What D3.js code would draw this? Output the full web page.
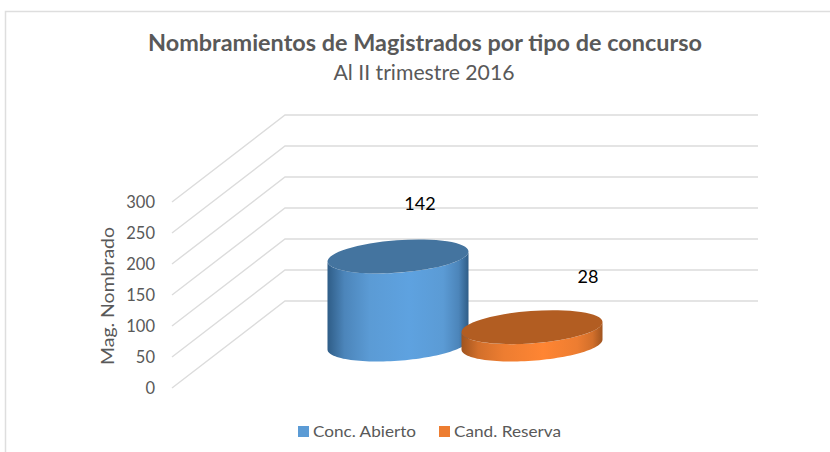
<!DOCTYPE html>
<html><head><meta charset="utf-8">
<script src="https://cdn.jsdelivr.net/npm/d3@7/dist/d3.min.js"></script>
<style>html,body{margin:0;padding:0;background:#fff}svg{display:block}text{font-family:Lato,"Open Sans",sans-serif}</style>
</head><body><svg id="c" width="830" height="452"></svg>
<script>
const seriesNames = ["Conc. Abierto", "Cand. Reserva"];
const seriesValues = [142, 28];
const tickValues = [0, 50, 100, 150, 200, 250, 300];
const fillMain = ["#5b9bd5", "#ed7d31"];
const fillPeak = ["#5ea2e0", "#ff8533"];
const fillEdge = ["#2f5d87", "#a0541f"];
const fillTop = ["#44749f", "#b25d22"];

const svg = d3.select("#c");
const W = 830, H = 452;
const depthX = 113, depthY = -87;
const y = d3.scaleLinear().domain([0, 300]).range([388, 202]);
const x = d3.scaleBand().domain(seriesNames).range([274.5, 542.5]);
const plotL = 172, plotR = 645;
const rx = 70.7, ry = 16.2, rot = -4.3;

svg.append("path").attr("d", `M5.5 ${H}V11.5H${W}`).attr("fill", "none").attr("stroke", "#dedede").attr("stroke-width", 1.5);

const tc = "#595959";
svg.append("text").attr("x", 425).attr("y", 51).attr("text-anchor", "middle")
  .attr("font-size", 22).attr("font-weight", 700).attr("fill", tc)
  .attr("textLength", 554).attr("lengthAdjust", "spacingAndGlyphs")
  .text("Nombramientos de Magistrados por tipo de concurso");
svg.append("text").attr("x", 424).attr("y", 80).attr("text-anchor", "middle")
  .attr("font-size", 21).attr("fill", tc)
  .attr("textLength", 181).attr("lengthAdjust", "spacingAndGlyphs")
  .text("Al II trimestre 2016");

svg.append("g").selectAll("path").data(tickValues).join("path")
  .attr("d", d => `M${plotL} ${y(d)}L${plotL + depthX} ${y(d) + depthY}H${plotR + depthX}`)
  .attr("fill", "none").attr("stroke", "#dcdcdc").attr("stroke-width", 1.4);

const ax = svg.append("g").attr("transform", "translate(160,0)")
  .call(d3.axisLeft(y).tickValues(tickValues).tickSize(0).tickPadding(5));
ax.select(".domain").remove();
ax.selectAll("text").attr("font-family", "Lato").attr("font-size", 16.5).attr("fill", tc).attr("dy", "0.36em");
svg.append("text").attr("transform", "translate(114,296) rotate(-90)").attr("text-anchor", "middle")
  .attr("font-size", 18).attr("fill", tc).attr("textLength", 138).attr("lengthAdjust", "spacingAndGlyphs").text("Mag. Nombrado");

const defs = svg.append("defs");
seriesNames.forEach((s, i) => {
  const g = defs.append("linearGradient").attr("id", "g" + i);
  [[0, fillEdge[i]], [0.12, d3.interpolateRgb(fillEdge[i], fillMain[i])(0.65)], [0.3, fillMain[i]], [0.58, fillPeak[i]], [0.82, fillMain[i]], [0.93, d3.interpolateRgb(fillEdge[i], fillMain[i])(0.65)], [1, fillEdge[i]]]
    .forEach(([o, c]) => g.append("stop").attr("offset", o).attr("stop-color", c));
});

const tr = rot * Math.PI / 180;
const ePoint = (cx, cy, a) => [
  cx + rx * Math.cos(a) * Math.cos(tr) - ry * Math.sin(a) * Math.sin(tr),
  cy + rx * Math.cos(a) * Math.sin(tr) + ry * Math.sin(a) * Math.cos(tr)
];
const a0 = Math.atan(-(ry / rx) * Math.tan(tr));
const angles = d3.range(0, 61).map(k => a0 + Math.PI * k / 60);
const baseY = y(0) + depthY / 2;
const scaleH = v => y(0) - y(v);
const cxOf = i => x(seriesNames[i]) + x.bandwidth() / 2 + depthX / 2;
const line = d3.line();

const bars = svg.append("g").selectAll("g").data(seriesValues).join("g");
bars.each(function (v, i) {
  const g = d3.select(this);
  const cx = cxOf(i), top = baseY - scaleH(v);
  const lower = angles.map(a => ePoint(cx, baseY, a));
  const upper = angles.map(a => ePoint(cx, top, a)).reverse();
  g.append("path").attr("d", line(lower.concat(upper)) + "Z").attr("fill", `url(#g${i})`);
  g.append("ellipse").attr("rx", rx).attr("ry", ry)
    .attr("transform", `translate(${cx},${top}) rotate(${rot})`).attr("fill", fillTop[i]);
});

const labelOffset = [[22, 52], [56, 50]];
svg.append("g").selectAll("text").data(seriesValues).join("text")
  .attr("x", (v, i) => cxOf(i) + labelOffset[i][0])
  .attr("y", (v, i) => baseY - scaleH(v) - labelOffset[i][1] + 6)
  .attr("text-anchor", "middle").attr("font-size", 18).attr("fill", "#000").text(v => v);

const legendX = [298, 439];
const lg = svg.append("g").selectAll("g").data(seriesNames).join("g")
  .attr("transform", (d, i) => `translate(${legendX[i]},426)`);
lg.append("rect").attr("width", 11).attr("height", 11).attr("fill", (d, i) => fillMain[i]);
lg.append("text").attr("x", 15).attr("y", 11).attr("font-size", 16).attr("fill", tc)
  .attr("textLength", (d, i) => [103, 107][i]).attr("lengthAdjust", "spacingAndGlyphs").text(d => d);
</script></body></html>
